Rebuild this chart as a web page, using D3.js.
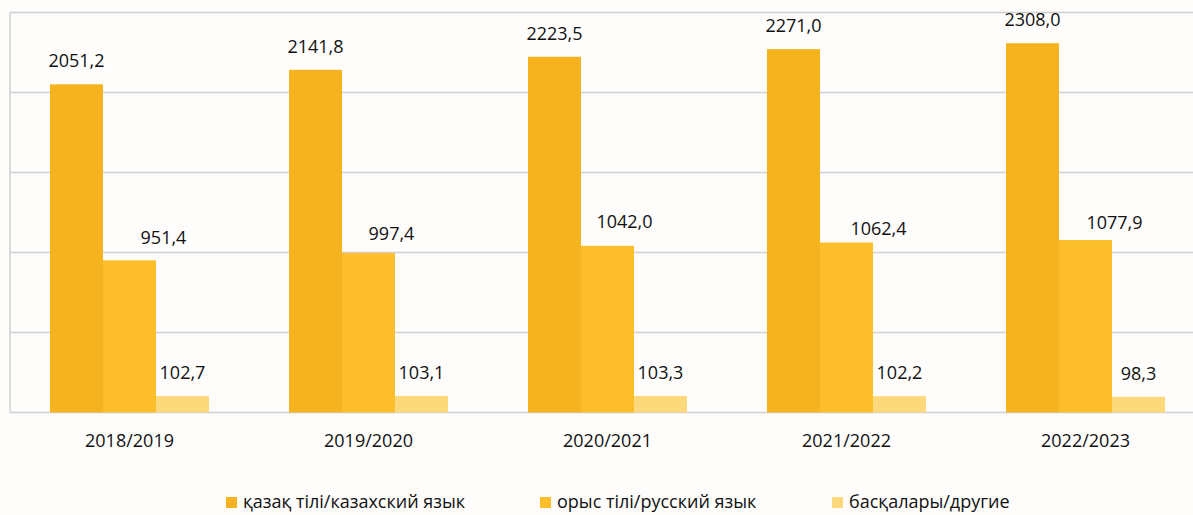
<!DOCTYPE html>
<html>
<head>
<meta charset="utf-8">
<script src="https://cdn.jsdelivr.net/npm/d3@7"></script>
<style>
  body { margin: 0; background: #fefdfc; }
  svg { display: block; font-family: "Open Sans", sans-serif; }
</style>
</head>
<body>
<svg id="chart"></svg>
<script>
// data
var years = ['2018/2019', '2019/2020', '2020/2021', '2021/2022', '2022/2023']
var seriesNames = ['қазақ тілі/казахский язык', 'орыс тілі/русский язык', 'басқалары/другие']
var kazakh = [2051.2, 2141.8, 2223.5, 2271.0, 2308.0]
var russian = [951.4, 997.4, 1042.0, 1062.4, 1077.9]
var other = [102.7, 103.1, 103.3, 102.2, 98.3]
var yTicks = [0, 500, 1000, 1500, 2000, 2500]

var colors = ['#f5b41f', '#fcbf2b', '#fed97c']
// the middle labels were dragged by hand in the original, nudge them the same way
var midNudge = [[34, 16], [23, 13], [17, 18], [32, 8], [29, 11]]

var width = 1193, height = 515
var svg = d3.select('#chart').attr('width', width).attr('height', height)

var x = d3.scaleBand().domain(years).range([10, 1205])
var xs = d3.scaleBand().domain(d3.range(3)).range([40, 199])
var y = d3.scaleLinear().domain([0, 2500]).range([412.5, 12.5])

// gridlines
svg.append('g').selectAll('line')
    .data(yTicks)
    .enter().append('line')
    .attr('x1', 10).attr('x2', width)
    .attr('y1', d => y(d)).attr('y2', d => y(d))
    .attr('stroke', '#d0d0d0')
    .attr('stroke-width', 1.5)

svg.append('line')
    .attr('x1', 10).attr('x2', 10)
    .attr('y1', y(2500)).attr('y2', y(0))
    .attr('stroke', '#d0d0d0')
    .attr('stroke-width', 1.5)

var data = [kazakh, russian, other]
var fmt = v => d3.format('.1f')(v).replace('.', ',')

var group = svg.selectAll('g.grp')
    .data(years)
    .enter().append('g')
    .attr('class', 'grp')
    .attr('transform', d => 'translate(' + x(d) + ',0)')

group.each(function(yr, i) {
    var g = d3.select(this)
    data.forEach(function(s, k) {
        var dx = k == 1 ? midNudge[i][0] : 0
        var dy = k == 1 ? midNudge[i][1] : 17
        g.append('rect')
            .attr('x', xs(k))
            .attr('width', xs.bandwidth())
            .attr('y', y(s[i]))
            .attr('height', y(0) - y(s[i]))
            .attr('fill', colors[k])
        g.append('text')
            .attr('x', xs(k) + xs.bandwidth() / 2 + dx)
            .attr('y', y(s[i]) - dy)
            .attr('text-anchor', 'middle')
            .attr('font-size', 18)
            .attr('fill', '#111')
            .text(fmt(s[i]))
    })
    g.append('text')
        .attr('x', x.bandwidth() / 2)
        .attr('y', 447)
        .attr('text-anchor', 'middle')
        .attr('font-size', 18)
        .attr('fill', '#111')
        .text(yr)
})

// legend
var legendX = [226, 540, 832]
var legend = svg.selectAll('g.leg')
    .data(seriesNames)
    .enter().append('g')
    .attr('class', 'leg')
    .attr('transform', (d, i) => 'translate(' + legendX[i] + ',497)')

legend.append('rect')
    .attr('width', 11).attr('height', 11)
    .attr('fill', (d, i) => colors[i])
legend.append('text')
    .attr('x', 17).attr('y', 11)
    .attr('font-size', 18)
    .attr('fill', '#111')
    .text(d => d)
</script>
</body>
</html>
